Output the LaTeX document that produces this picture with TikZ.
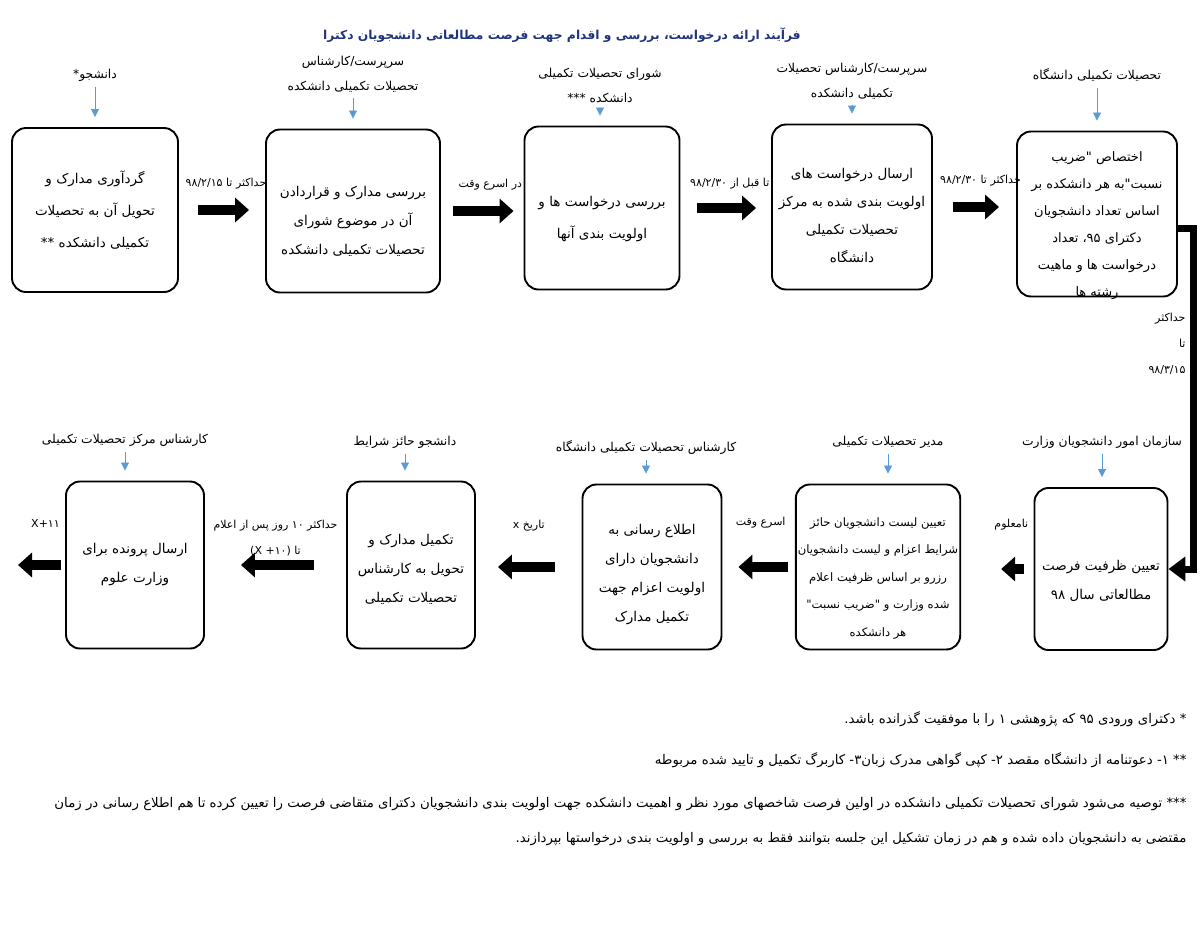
\documentclass[tikz,border=0pt]{standalone}
\usepackage{fontspec}
\setmainfont{DejaVu Sans}
\newfontfamily\arabicfont[Script=Arabic]{DejaVu Sans}
\TeXXeTstate=1
\usetikzlibrary{arrows.meta,positioning}
\definecolor{rolecol}{RGB}{91,155,213}
\definecolor{titlecol}{RGB}{32,52,125}
\newcommand{\fa}[1]{{\arabicfont\beginR #1\endR}}
\newcommand{\boxsize}{\fontsize{13.5}{29}\selectfont}
\newcommand{\rolesize}{\fontsize{12.3}{25}\selectfont}
\newcommand{\lblsize}{\fontsize{11}{26}\selectfont}
\newcommand{\notesize}{\fontsize{13.3}{35}\selectfont}

\begin{document}
\begin{tikzpicture}[x=1pt,y=-1pt,
 box/.style={draw,line width=1.9pt,rounded corners=14pt,align=center,font=\boxsize,inner sep=2pt},
 role/.style={align=center,font=\rolesize,inner sep=2pt},
 lbl/.style={align=center,font=\lblsize,inner sep=1pt},
 rolearrow/.style={rolecol,line width=0.8pt,-{Triangle[length=8pt,width=8pt]},shorten <=4pt,shorten >=10pt},
 flow/.style={line width=10pt,-{Triangle[length=14pt,width=24pt]}},
 elbow/.style={line width=7pt,-{Triangle[length=17pt,width=24pt]}}]
\useasboundingbox (0,0) rectangle (1200,927);

% title
\node[font=\fontsize{12.3}{16}\selectfont\bfseries,text=titlecol] (title) at (562,35)
 {\fa{فرآیند ارائه درخواست، بررسی و اقدام جهت فرصت مطالعاتی دانشجویان دکترا}};

% first row
\node[box,minimum width=166pt,minimum height=164pt,font=\fontsize{13.5}{32}\selectfont] (b1) at (95,210)
 {\fa{گردآوری مدارک و}\\\fa{تحویل آن به تحصیلات}\\\fa{تکمیلی دانشکده **}};
\node[box,minimum width=174pt,minimum height=163pt,text height=90pt,text depth=4pt] (b2) at (353,211)
 {\fa{بررسی مدارک و قراردادن}\\\fa{آن در موضوع شورای}\\\fa{تحصیلات تکمیلی دانشکده}};
\node[box,minimum width=155pt,minimum height=163pt,font=\fontsize{13.5}{32}\selectfont,text height=64pt,text depth=4pt] (b3) at (602,208)
 {\fa{بررسی درخواست ها و}\\\fa{اولویت بندی آنها}};
\node[box,minimum width=160pt,minimum height=165pt,font=\fontsize{13.5}{28}\selectfont,text height=114pt,text depth=4pt] (b4) at (852,207)
 {\fa{ارسال درخواست های}\\\fa{اولویت بندی شده به مرکز}\\\fa{تحصیلات تکمیلی}\\\fa{دانشگاه}};
\node[box,minimum width=160pt,minimum height=165pt,font=\fontsize{13}{27}\selectfont,inner ysep=0pt,text height=165pt,text depth=0pt] (b5) at (1097,214)
 {\fa{اختصاص "ضریب}\\\fa{نسبت"به هر دانشکده بر}\\\fa{اساس تعداد دانشجویان}\\\fa{دکترای ۹۵، تعداد}\\\fa{درخواست ها و ماهیت}\\\fa{رشته ها}};

\node[role] (r1) at (95,75) {\fa{دانشجو*}};
\node[role] (r2) at (353,74) {\fa{سرپرست/کارشناس}\\\fa{تحصیلات تکمیلی دانشکده}};
\node[role] (r3) at (600,85) {\fa{شورای تحصیلات تکمیلی}\\\fa{دانشکده ***}};
\node[role] (r4) at (852,81) {\fa{سرپرست/کارشناس تحصیلات}\\\fa{تکمیلی دانشکده}};
\node[role] (r5) at (1097,75) {\fa{تحصیلات تکمیلی دانشگاه}};

% second row
\node[box,minimum width=133pt,minimum height=162pt,text height=64pt,text depth=4pt] (b6) at (1101,569)
 {\fa{تعیین ظرفیت فرصت}\\\fa{مطالعاتی سال ۹۸}};
\node[box,minimum width=163pt,minimum height=165pt,font=\fontsize{11.6}{27.5}\selectfont,text height=142pt,text depth=4pt] (b7) at (878,567)
 {\fa{تعیین لیست دانشجویان حائز}\\\fa{شرایط اعزام و لیست دانشجویان}\\\fa{رزرو بر اساس ظرفیت اعلام}\\\fa{شده وزارت و "ضریب نسبت"}\\\fa{هر دانشکده}};
\node[box,minimum width=139pt,minimum height=165pt,text height=112pt,text depth=4pt] (b8) at (652,567)
 {\fa{اطلاع رسانی به}\\\fa{دانشجویان دارای}\\\fa{اولویت اعزام جهت}\\\fa{تکمیل مدارک}};
\node[box,minimum width=128pt,minimum height=167pt,text height=78pt,text depth=4pt] (b9) at (411,565)
 {\fa{تکمیل مدارک و}\\\fa{تحویل به کارشناس}\\\fa{تحصیلات تکمیلی}};
\node[box,minimum width=138pt,minimum height=167pt] (b10) at (135,565)
 {\fa{ارسال پرونده برای}\\\fa{وزارت علوم}};
\coordinate (out) at (18,565);

\node[role] (r6) at (1102,442) {\fa{سازمان امور دانشجویان وزارت}};
\node[role] (r7) at (888,442) {\fa{مدیر تحصیلات تکمیلی}};
\node[role] (r8) at (646,447) {\fa{کارشناس تحصیلات تکمیلی دانشگاه}};
\node[role] (r9) at (405,442) {\fa{دانشجو حائز شرایط}};
\node[role] (r10) at (125,440) {\fa{کارشناس مرکز تحصیلات تکمیلی}};

% who does what
\foreach \i in {1,...,10}
 \draw[rolearrow] (r\i.south) -- (r\i.south |- b\i.north);

% steps
\draw[flow,shorten <=19pt,shorten >=16pt] (b1.east) -- (b1.east -| b2.west)
 node[lbl,midway,above=15pt,xshift=4pt] {\fa{حداکثر تا ۹۸/۲/۱۵}};
\draw[flow,shorten <=12pt,shorten >=10pt] (b2.east) -- (b2.east -| b3.west)
 node[lbl,midway,above=15pt,xshift=8pt] {\fa{در اسرع وقت}};
\draw[flow,shorten <=17pt,shorten >=15pt] (b3.east) -- (b3.east -| b4.west)
 node[lbl,midway,above=13pt,xshift=4pt] {\fa{تا قبل از ۹۸/۲/۳۰}};
\draw[flow,shorten <=20pt,shorten >=17pt] (b4.east) -- (b4.east -| b5.west)
 node[lbl,midway,above=15pt,xshift=6pt] {\fa{حداکثر تا ۹۸/۲/۳۰}};
\draw[elbow] ([yshift=-14pt]b5.east) -- ++(16,0) |- (b6.east)
 node[lbl,pos=0.17,left=4pt,align=right] {\fa{حداکثر}\\\fa{تا}\\\fa{۹۸/۳/۱۵}};
\draw[flow,shorten <=10pt,shorten >=40pt] (b6.west) -- (b6.west -| b7.east)
 node[lbl,midway,above=33pt,xshift=14pt] {\fa{نامعلوم}};
\draw[flow,shorten <=7pt,shorten >=16pt] (b7.west) -- (b7.west -| b8.east)
 node[lbl,midway,above=33pt,xshift=2pt] {\fa{اسرع وقت}};
\draw[flow,shorten <=27pt,shorten >=22pt] (b8.west) -- (b8.west -| b9.east)
 node[lbl,midway,above=30pt] {\fa{تاریخ x}};
\draw[flow,shorten <=32pt,shorten >=36pt] (b9.west) -- (b9.west -| b10.east)
 node[lbl,midway,above=3pt] {\fa{حداکثر ۱۰ روز پس از اعلام}\\\fa{تا \beginL{\rmfamily(X +۱۰)}\endL}};
\draw[flow,shorten <=4pt] (b10.west) -- (out)
 node[lbl,midway,above=32pt,xshift=4pt] {X+۱۱};

% notes
\node[font=\notesize,anchor=east] (n1) at (1190,719)
 {\fa{* دکترای ورودی ۹۵ که پژوهشی ۱ را با موفقیت گذرانده باشد.}};
\node[font=\notesize,anchor=east] (n2) at (1190,760)
 {\fa{** ۱- دعوتنامه از دانشگاه مقصد ۲- کپی گواهی مدرک زبان۳- کاربرگ تکمیل و تایید شده مربوطه}};
\node[font=\notesize,anchor=east,align=right] (n3) at (1190,822)
 {\fa{*** توصیه می‌شود شورای تحصیلات تکمیلی دانشکده در اولین فرصت شاخصهای مورد نظر و اهمیت دانشکده جهت اولویت بندی دانشجویان دکترای متقاضی فرصت را تعیین کرده تا هم اطلاع رسانی در زمان}\\
  \fa{مقتضی به دانشجویان داده شده و هم در زمان تشکیل این جلسه بتوانند فقط به بررسی و اولویت بندی درخواستها بپردازند.}};
\end{tikzpicture}
\end{document}
